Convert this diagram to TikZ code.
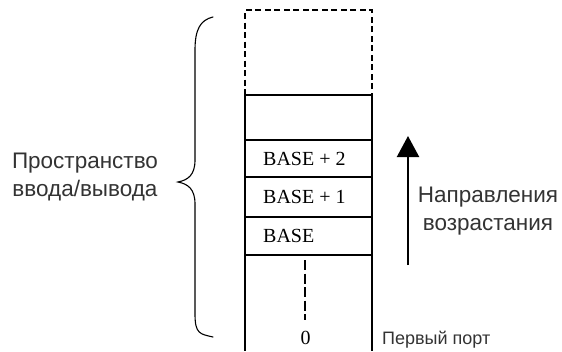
\documentclass[tikz,border=0pt]{standalone}
\usepackage{fontspec}
\setmainfont{Liberation Sans}
\newfontfamily\tnr{Liberation Serif}
\usetikzlibrary{arrows.meta}
\begin{document}
\begin{tikzpicture}[x=1pt,y=1pt,
  cell/.style={draw, line width=1.3pt, minimum width=127pt, inner sep=0pt, outer sep=0pt},
  celltext/.style={anchor=west, inner sep=0pt, font=\tnr\fontsize{20}{24}\selectfont},
  lbl/.style={align=center, inner sep=0pt, text=black!80, font=\fontsize{22.5}{28}\selectfont},
  brace/.style={line width=1.1pt, line cap=round}]
\useasboundingbox (0,0) rectangle (562,-351);
% column cells
\node[cell, line width=1.6pt, dash pattern=on 6pt off 3.5pt, minimum height=85pt] (future) at (308.5,-52.5) {};
\node[cell, minimum height=45pt] (empty) at (308.5,-117.5) {};
\node[cell, minimum height=37pt] (b2) at (308.5,-158.5) {};
\node[cell, minimum height=40pt] (b1) at (308.5,-197) {};
\node[cell, minimum height=38pt] (b0) at (308.5,-236) {};
\node[celltext] (t2) at (263,-158.5) {BASE + 2};
\node[celltext] (t1) at (263,-197) {BASE + 1};
\node[celltext] (t0) at (263,-236) {BASE};
% open lower part
\coordinate (lb) at (245,-351);
\coordinate (rb) at (372,-351);
\draw[line width=1.3pt] (b0.south west) -- (lb);
\draw[line width=1.3pt] (b0.south east) -- (rb);
\coordinate (dtop) at (305,-260);
\coordinate (dbot) at (305,-320);
\draw[line width=2pt, dash pattern=on 10pt off 3.5pt] (dtop) -- (dbot);
\node[inner sep=0pt, font=\tnr\fontsize{20}{24}\selectfont] (zero) at (305.5,-338) {0};
% brace
\coordinate (bt) at (213,-17);
\coordinate (bm) at (178,-182);
\coordinate (bb) at (213,-337);
\draw[brace] (bt) .. controls (200,-20) and (195,-30) .. (195,-50)
  -- (195,-160) .. controls (195,-175) and (188,-180) .. (bm)
  .. controls (188,-184) and (195,-189) .. (195,-204)
  -- (195,-314) .. controls (195,-334) and (200,-334) .. (bb);
\node[lbl] (space) at (85,-177) {Пространство\\ввода/вывода};
\node[lbl] (dir) at (488,-211) {Направления\\возрастания};
% arrow
\coordinate (abot) at (408,-265);
\coordinate (atop) at (408,-136);
\draw[line width=2.2pt, -{Triangle[length=21pt,width=22pt]}] (abot) -- (atop);
\node[inner sep=0pt, anchor=west, text=black!80, font=\fontsize{18}{20}\selectfont] (first) at (382,-340) {Первый порт};
\end{tikzpicture}
\end{document}
